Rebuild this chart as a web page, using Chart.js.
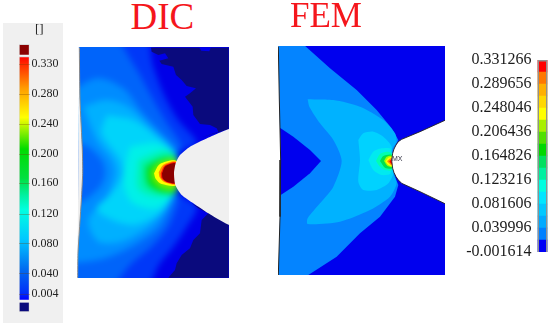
<!DOCTYPE html>
<html>
<head>
<meta charset="utf-8">
<script src="https://cdn.jsdelivr.net/npm/chart.js@4"></script>
<style>
  html, body { margin: 0; padding: 0; background: #fff; }
  body { position: relative; width: 550px; height: 327px; overflow: hidden; }
  canvas, .txt { position: absolute; }
  .txt { font-family: "Liberation Serif", serif; line-height: 1; white-space: nowrap; }
  .title { color: #f5161c; }
  #dicField { left: 0; top: 0; filter: blur(3px); clip-path: inset(47.7px 41.3px 49px 77px); }
  #dicOver { left: 0; top: 0; filter: blur(.5px); clip-path: inset(47.7px 41.3px 49px 77px); }
  #femField { left: 270px; top: 0; filter: blur(.6px); clip-path: inset(46.7px 105px 52px 8px); }
  #legendL { left: 3px; top: 23px; background: #f0f0f0; }
  #legendR { left: 462px; top: 40px; }
</style>
</head>
<body>
<canvas id="dicField" width="270" height="327"></canvas>
<canvas id="dicOver" width="270" height="327"></canvas>
<canvas id="femField" width="280" height="327"></canvas>
<canvas id="legendL" width="60" height="300"></canvas>
<canvas id="legendR" width="88" height="230"></canvas>
<div class="txt title" style="left:130.5px;top:-1.7px;font-size:37px">DIC</div>
<div class="txt title" style="left:290px;top:-1.6px;font-size:35px">FEM</div>
<div class="txt" style="left:35px;top:22px;font-size:13px;color:#222">[]</div>
<div class="txt" style="left:392px;top:155px;font-size:7px;font-family:'Liberation Sans';color:#334">MX</div>
<script>
// DIC strain contours, outermost first (specimen coords, 3 units = 1px)
const dicColors = ["#0000e8", "#0038f8", "#0064fa", "#008cff", "#00b0ff", "#00d4fa", "#00f0e8", "#00f4b0", "#00ea70", "#00dc10", "#80f000"];
const dicBase = [[190,100],[720,100],[720,870],[190,870]];
const dicC03 = [[190,100],[430,100],[460,200],[495,290],[535,360],[590,430],[530,465],[525,570],[590,620],[560,680],[520,740],[480,790],[430,870],[190,870]];
const dicC05 = [[190,100],[330,100],[405,200],[455,290],[495,360],[545,440],[525,470],[525,570],[535,600],[505,680],[455,740],[395,790],[320,870],[190,870]];
const dicC07 = [[190,290],[290,235],[370,265],[425,335],[475,390],[530,460],[525,570],[510,620],[475,685],[405,735],[330,770],[260,785],[190,780],[190,640],[255,600],[300,560],[315,520],[305,480],[265,440],[190,400]];
const dicC08 = [[250,320],[320,300],[385,320],[450,380],[528,462],[525,570],[495,630],[440,685],[365,725],[295,725],[265,660],[320,590],[345,520],[335,480],[290,420]];
const dicC09 = [[320,345],[400,360],[470,410],[525,465],[525,570],[480,640],[400,675],[325,655],[290,625],[335,580],[368,525],[360,480],[305,400]];
const dicC10 = [[390,440],[470,430],[525,470],[525,570],[470,625],[400,610],[375,570],[372,520]];
const dicC13 = [[415,480],[490,452],[530,470],[530,575],[470,590],[415,566]];
const dicC16 = [[432,495],[500,468],[530,480],[530,575],[490,578],[440,556]];
const dicC19 = [[442,505],[480,480],[530,478],[530,572],[480,574],[447,548]];
const dicC22 = [[456,512],[480,488],[530,480],[530,564],[488,564],[460,540]];
const dicBands = [dicBase, dicC03, dicC05, dicC07, dicC08, dicC09, dicC10, dicC13, dicC16, dicC19, dicC22];

// hot spot, kept sharp on the upper layer
const hotColors = ["#ffff00", "#ff9000", "#ff2000", "#8b0000"];
const dicC25 = [[462,520],[480,492],[530,484],[530,554],[485,552],[467,536]];
const dicC28 = [[476,517],[490,494],[530,486],[530,552],[494,547],[479,532]];
const dicC32 = [[482,520],[495,496],[530,488],[530,550],[498,546],[484,534]];
const dicC35 = [[486,520],[497,498],[530,491],[528,548],[500,545],[488,535]];
const dicHot = [dicC25, dicC28, dicC32, dicC35];

// below-threshold areas, notch and specimen edge of the DIC map
const navyTop = [[453,143],[455,155],[475,165],[495,160],[505,175],[478,182],[485,192],[520,200],[528,225],[545,240],[560,258],[588,265],[570,280],[555,290],[570,310],[578,320],[580,345],[600,372],[630,375],[650,385],[655,395],[606,412],[686,388],[686,143],[632,143],[628,154],[604,152],[598,143]];
const navyBottom = [[575,610],[595,625],[625,640],[605,660],[600,700],[580,720],[570,745],[545,765],[530,790],[525,810],[505,833],[686,833],[686,667]];
const dicNotch = [[700,382],[650,402],[610,420],[570,440],[540,465],[527,490],[522,520],[526,555],[545,585],[580,610],[625,640],[700,675]];
const dicEdge = [[238,143],[240,300],[247,450],[248,520],[244,600],[234,760],[233,833]];
const dicLeftOut = [[190,100],[238,143],[233,833],[190,870]];

// FEM contours
const femColors = ["#0000ee", "#0484ff", "#00b2ff", "#00d2ff", "#00eaf0", "#00ffb0", "#00e050", "#a0ff00", "#ffff00", "#ff9000", "#ff0000", "#0000ee"];
const femRect = [[0,100],[560,100],[560,860],[0,860]];
const femB1 = [[0,100],[70,100],[108,140],[180,205],[260,270],[320,330],[365,385],[385,420],[375,440],[365,480],[375,530],[385,555],[375,590],[330,650],[270,700],[200,770],[115,825],[70,860],[0,860]];
const femB2 = [[113,298],[190,300],[270,320],[340,360],[375,400],[380,425],[368,445],[362,480],[370,520],[380,550],[360,590],[300,630],[210,665],[113,672],[113,655],[150,610],[190,560],[215,483],[190,420],[150,370],[118,320]];
const femB3 = [[265,420],[280,400],[310,395],[340,410],[365,440],[362,480],[370,520],[355,550],[320,570],[280,570],[265,545],[270,480]];
const femB4 = [[295,480],[310,455],[335,445],[362,447],[362,520],[335,525],[310,510]];
const femB5 = [[318,483],[330,462],[350,455],[365,460],[365,510],[345,510],[330,500]];
const femB6 = [[330,483],[340,468],[365,465],[367,505],[345,503]];
const femB7 = [[342,483],[350,470],[367,468],[367,500],[352,497]];
const femB8 = [[346,484],[355,473],[367,472],[367,498],[355,495]];
const femB9 = [[351,484],[362,475],[368,475],[368,497],[360,493]];
const femB10 = [[358,484],[366,478],[368,482],[368,494],[362,490]];
const femHole = [[0,375],[32,385],[70,410],[120,450],[153,483],[120,520],[70,560],[32,585],[0,595]];
const femBands = [femRect, femB1, femB2, femB3, femB4, femB5, femB6, femB7, femB8, femB9, femB10, femHole];
const femNotch = [[560,345],[450,395],[395,418],[385,425],[378,435],[372,447],[368,460],[365,480],[368,505],[372,518],[378,530],[385,540],[395,550],[450,575],[560,628]];
const femEdge = [[25,140],[28,300],[32,480],[30,650],[25,825]];
const femLeftOut = [[0,100],[25,140],[28,300],[32,480],[30,650],[25,825],[0,860]];

// legends
const dicLegendLabels = ["0.330", "0.280", "0.240", "0.200", "0.160", "0.120", "0.080", "0.040", "0.004"];
const dicLegendPos = [251, 219, 187, 155, 124, 91, 60, 28, 6];
const dicRampStops = [0, .03, .12, .25, .37, .43, .5, .62, .75, .87, .97, 1];
const dicRampColors = ["#0000ff", "#0030f8", "#0068f0", "#00c8ff", "#00ffe0", "#00f0a0", "#00e040", "#00dc00", "#ffff00", "#ff9c00", "#ff2800", "#ff0000"];
const femLevels = [-0.001614, 0.019191, 0.039996, 0.060801, 0.081606, 0.102411, 0.123216, 0.144021, 0.164826, 0.185631, 0.206436, 0.227241, 0.248046, 0.268851, 0.289656, 0.310461, 0.331266];
const femLegendTicks = [-0.001614, 0.039996, 0.081606, 0.123216, 0.164826, 0.206436, 0.248046, 0.289656, 0.331266];
const femLegendColors = ["#0000f5", "#0080ff", "#00aaff", "#00c8ff", "#00e6ff", "#00ffe0", "#00f0a0", "#00e060", "#00d800", "#50e000", "#a8f000", "#ffff00", "#ffd800", "#ffb000", "#ff7800", "#ff0000"];

function band(points, color, order, tension) {
  return {
    data: points.map(p => ({ x: p[0], y: p[1] })).concat([{ x: points[0][0], y: points[0][1] }]),
    showLine: true, fill: "shape", backgroundColor: color,
    borderWidth: 0, pointRadius: 0, tension: tension, order: order
  };
}

function edgeLine(points, color, width, tension) {
  return {
    data: points.map(p => ({ x: p[0], y: p[1] })),
    showLine: true, fill: false, borderColor: color, borderWidth: width,
    pointRadius: 0, tension: tension, order: 0
  };
}

function fieldChart(id, datasets, xMax) {
  return new Chart(document.getElementById(id), {
    type: "scatter",
    data: { datasets: datasets },
    options: {
      responsive: false, animation: false,
      layout: { padding: 0 },
      plugins: { legend: { display: false }, tooltip: { enabled: false } },
      scales: {
        x: { display: false, min: 0, max: xMax },
        y: { display: false, min: 0, max: 981, reverse: true }
      }
    }
  });
}

fieldChart("dicField", dicBands.map((b, i) => band(b, dicColors[i], dicBands.length - i, .3)), 810);

fieldChart("dicOver", dicHot.map((b, i) => band(b, hotColors[i], 20 - i, .3)).concat([
  band(dicLeftOut, "#ffffff", 5, 0),
  band(dicEdge, "#eeeeee", 4, .2),
  band(navyTop, "#0a0a7d", 3, 0),
  band(navyBottom, "#0a0a7d", 2, 0),
  band(dicNotch, "#f0f0f0", 1, .2),
  edgeLine(dicEdge, "#8a8a8a", 1, .2)
]), 810);

fieldChart("femField", femBands.map((b, i) => band(b, femColors[i], 20 - i, i < 2 || i === 11 ? 0 : .25)).concat([
  band(femLeftOut, "#ffffff", 3, 0),
  band(femNotch, "#ffffff", 2, 0),
  edgeLine(femNotch, "#222222", .9, 0),
  edgeLine(femEdge, "#222222", 1, 0)
]), 840);

// DIC legend: ramp plus the over-range and under-range boxes
new Chart(document.getElementById("legendL"), {
  type: "bar",
  data: {
    labels: [""],
    datasets: [
      { data: [[0, 259]], backgroundColor: ctx => {
          const s = ctx.chart.scales.y;
          if (!s || !ctx.chart.chartArea || !Number.isFinite(s.getPixelForValue(0))) return "#00c8ff";
          const g = ctx.chart.ctx.createLinearGradient(0, s.getPixelForValue(0), 0, s.getPixelForValue(259));
          dicRampStops.forEach((st, i) => g.addColorStop(st, dicRampColors[i]));
          return g;
        } },
      { data: [[261, 272]], backgroundColor: "#8b0000" },
      { data: [[-13, -3]], backgroundColor: "#0a0a7d" }
    ]
  },
  options: {
    responsive: false, animation: false,
    layout: { padding: { left: 16, right: 0, top: 0, bottom: 0 } },
    datasets: { bar: { barPercentage: 1, categoryPercentage: 1, borderColor: "#d8d8d8", borderWidth: 1 } },
    plugins: { legend: { display: false }, tooltip: { enabled: false } },
    scales: {
      x: { display: false, stacked: true },
      y: {
        position: "right", min: -15, max: 285,
        afterFit: s => { s.width = 33.5; },
        afterBuildTicks: s => { s.ticks = dicLegendPos.map(v => ({ value: v })); },
        border: { display: false },
        grid: { color: "rgba(110,60,0,.3)", z: 1, drawTicks: false },
        ticks: {
          padding: 2, autoSkip: false, color: "#222",
          font: { family: "Liberation Serif", size: 12 },
          callback: v => dicLegendLabels[dicLegendPos.indexOf(v)]
        }
      }
    }
  }
});

// FEM legend
new Chart(document.getElementById("legendR"), {
  type: "bar",
  data: {
    labels: [""],
    datasets: femLegendColors.map((c, i) => ({ data: [[femLevels[i], femLevels[i + 1]]], backgroundColor: c, order: 2 }))
      .concat([{ data: [[femLevels[0], femLevels[16]]], backgroundColor: "transparent", borderColor: "#909090", borderWidth: 1.2, order: 1 }])
  },
  options: {
    responsive: false, animation: false,
    layout: { padding: { left: 0, right: 2.5, top: 20, bottom: 18 } },
    datasets: { bar: { barPercentage: 1, categoryPercentage: 1 } },
    plugins: { legend: { display: false }, tooltip: { enabled: false } },
    scales: {
      x: { display: false, stacked: true },
      y: {
        min: femLevels[0], max: femLevels[16],
        afterFit: s => { s.width = 75.5; },
        afterBuildTicks: s => { s.ticks = femLegendTicks.map(v => ({ value: v })); },
        border: { display: false },
        grid: { display: false, drawTicks: false },
        ticks: {
          padding: 6, autoSkip: false, color: "#1c1c1c",
          font: { family: "Liberation Serif", size: 16 },
          callback: v => v.toFixed(6)
        }
      }
    }
  }
});
</script>
</body>
</html>
